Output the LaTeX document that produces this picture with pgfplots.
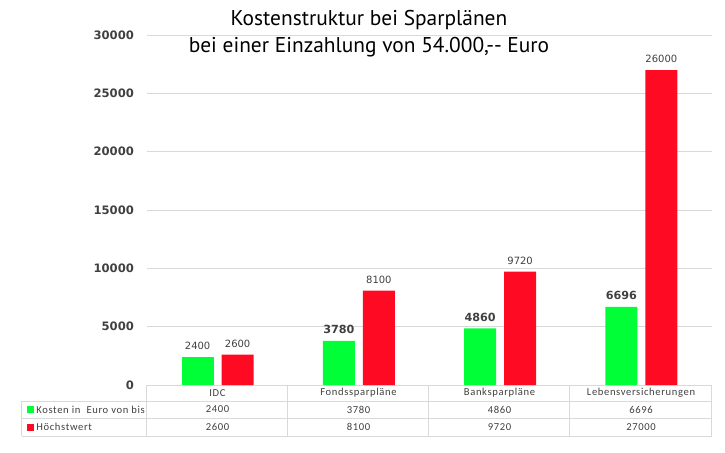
\documentclass[border=0pt]{standalone}
\usepackage{pgfplots}
\pgfplotsset{compat=1.18}
\usepackage{pgfplotstable}
\usepackage{fontspec}
\setmainfont{Carlito}
\newfontfamily\titlefont{PT Sans}
\newfontfamily\numfont{DejaVu Sans}
\newfontfamily\tabfont[LetterSpace=6]{Carlito}
\definecolor{kgreen}{RGB}{0,255,55}
\definecolor{kred}{RGB}{255,10,35}
\definecolor{gridgray}{RGB}{217,217,217}
\definecolor{txtgray}{RGB}{64,64,64}

% value and label shown above the bar
\pgfplotstableread{
x y lab
0 2400 2400
}\kostenklein
\pgfplotstableread{
x y lab
1 3780 3780
2 4860 4860
3 6696 6696
}\kostengross
\pgfplotstableread{
x y lab
0 2600 2600
1 8100 8100
2 9720 9720
3 27000 26000
}\hoechst

\begin{document}
\begin{tikzpicture}
\begin{axis}[
    at={(0,0)}, anchor=south west,
    scale only axis, width=282.5pt, height=175pt,
    xmin=-0.5, xmax=3.5, ymin=0, ymax=30000,
    ytick={0,5000,...,30000},
    scaled y ticks=false,
    xtick=\empty,
    ymajorgrids, grid style={gridgray, line width=0.5pt},
    axis x line*=bottom, axis y line*=left,
    x axis line style={gridgray, line width=0.5pt, -},
    y axis line style={draw=none},
    major tick length=0pt,
    yticklabel style={font=\numfont\bfseries\fontsize{5.8}{6}\selectfont, text=txtgray, xshift=-3pt},
    /pgf/number format/.cd, 1000 sep={}, assume math mode=true, /pgfplots/.cd,
    ybar, bar width=16pt,
    point meta=explicit symbolic,
    nodes near coords,
    every node near coord/.append style={text=txtgray, font=\numfont\fontsize{5}{6}\selectfont},
    clip=false,
]
\addplot[fill=kgreen, draw=none, bar shift=-10pt] table[x=x, y=y, meta=lab] {\kostenklein};
\addplot[fill=kgreen, draw=none, bar shift=-10pt,
    every node near coord/.append style={font=\numfont\bfseries\fontsize{5.6}{7}\selectfont}]
    table[x=x, y=y, meta=lab] {\kostengross};
\addplot[fill=kred, draw=none, bar shift=10pt] table[x=x, y=y, meta=lab] {\hoechst};
\end{axis}

% title and data table, in pixel coordinates of the 725x452 image
\begin{scope}[shift={(-73.5pt,192.5pt)}, x=0.5pt, y=-0.5pt]
\node[font=\titlefont\fontsize{10.7}{13}\selectfont] at (369,20) {Kostenstruktur bei Sparplänen};
\node[font=\titlefont\fontsize{10.7}{13}\selectfont] at (369,47) {bei einer Einzahlung von 54.000,{-}{-} Euro};

\draw[gridgray, line width=0.5pt] (22,401) -- (712,401) (22,418) -- (712,418) (22,436) -- (712,436) (22,401) -- (22,436);
\foreach \xx in {147,288,429,570,712} \draw[gridgray, line width=0.5pt] (\xx,385) -- (\xx,436);

\begin{scope}[every node/.style={font=\tabfont\fontsize{5.3}{6}\selectfont, text=txtgray, inner sep=0pt}]
\node at (217.5,393) {IDC};
\node at (358.5,393) {Fondssparpläne};
\node at (499.5,393) {Banksparpläne};
\node at (641,393) {Lebensversicherungen};
\fill[kgreen] (27,406) rectangle (34,413);
\fill[kred] (27,424) rectangle (34,431);
\node[anchor=west] at (36,409.5) {Kosten in\ \ Euro von bis};
\node[anchor=west] at (36,427) {Höchstwert};
\node at (217.5,409.5) {2400};
\node at (358.5,409.5) {3780};
\node at (499.5,409.5) {4860};
\node at (641,409.5) {6696};
\node at (217.5,427) {2600};
\node at (358.5,427) {8100};
\node at (499.5,427) {9720};
\node at (641,427) {27000};
\end{scope}
\pgfresetboundingbox
\path[use as bounding box] (0,0) rectangle (725,452);
\end{scope}
\end{tikzpicture}
\end{document}
